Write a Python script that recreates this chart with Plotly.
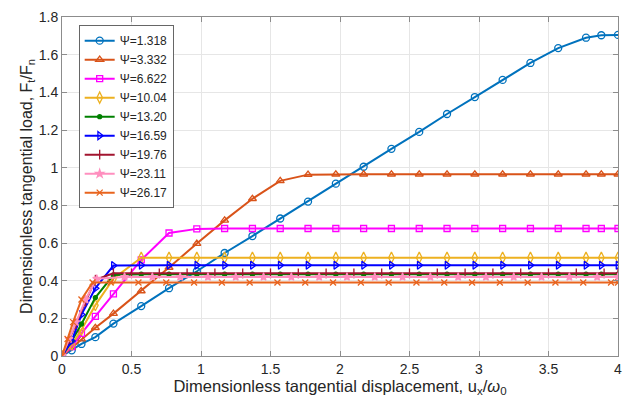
import plotly.graph_objects as go

# ---------------- data ----------------
x_a = [0, 0.07, 0.14, 0.24, 0.37, 0.57, 0.77, 0.97, 1.17, 1.37, 1.57, 1.77, 1.97, 2.17,
       2.37, 2.57, 2.77, 2.97, 3.17, 3.37, 3.57, 3.77, 3.88, 4.0]
y_1318 = [0, 0.03, 0.064, 0.10, 0.172, 0.265, 0.36, 0.45, 0.547, 0.637, 0.73, 0.82, 0.915, 1.005,
          1.10, 1.19, 1.285, 1.375, 1.466, 1.556, 1.635, 1.69, 1.703, 1.705]
y_3332 = [0, 0.045, 0.09, 0.15, 0.225, 0.345, 0.47, 0.597, 0.72, 0.835, 0.93, 0.963, 0.965, 0.965,
          0.965, 0.965, 0.965, 0.965, 0.965, 0.965, 0.965, 0.965, 0.965, 0.965]
y_6622 = [0, 0.05, 0.12, 0.21, 0.33, 0.51, 0.653, 0.675, 0.677, 0.677, 0.677, 0.677, 0.677, 0.677,
          0.677, 0.677, 0.677, 0.677, 0.677, 0.677, 0.677, 0.677, 0.677, 0.677]
y_1004 = [0, 0.06, 0.14, 0.27, 0.41, 0.522, 0.522, 0.522, 0.522, 0.522, 0.522, 0.522, 0.522, 0.522,
          0.522, 0.522, 0.522, 0.522, 0.522, 0.522, 0.522, 0.522, 0.522, 0.522]
y_1320 = [0, 0.08, 0.17, 0.31, 0.43, 0.434, 0.434, 0.434, 0.434, 0.434, 0.434, 0.434, 0.434, 0.434,
          0.434, 0.434, 0.434, 0.434, 0.434, 0.434, 0.434, 0.434, 0.434, 0.434]
y_1659 = [0, 0.08, 0.22, 0.36, 0.48, 0.482, 0.482, 0.482, 0.482, 0.482, 0.482, 0.482, 0.482, 0.482,
          0.482, 0.482, 0.482, 0.482, 0.482, 0.482, 0.482, 0.482, 0.482, 0.482]

x_p = [0, 0.05, 0.1, 0.17, 0.24, 0.37, 0.5, 0.7, 0.9, 1.1, 1.3, 1.5, 1.7, 1.9, 2.1, 2.3, 2.5,
       2.7, 2.9, 3.1, 3.3, 3.5, 3.7, 3.9, 4.0]
y_1976 = [0, 0.09, 0.17, 0.29, 0.405, 0.439, 0.439, 0.439, 0.439, 0.439, 0.439, 0.439, 0.439,
          0.439, 0.439, 0.439, 0.439, 0.439, 0.439, 0.439, 0.439, 0.439, 0.439, 0.439, 0.439]

x_s = [0, 0.05, 0.1, 0.17, 0.25, 0.45, 0.65, 0.85, 1.05, 1.25, 1.45, 1.65, 1.85, 2.05, 2.25,
       2.45, 2.65, 2.85, 3.05, 3.25, 3.45, 3.65, 3.85, 4.0]
y_2311 = [0, 0.09, 0.18, 0.30, 0.41, 0.42, 0.42, 0.42, 0.42, 0.42, 0.42, 0.42, 0.42, 0.42, 0.42,
          0.42, 0.42, 0.42, 0.42, 0.42, 0.42, 0.42, 0.42, 0.42]

x_x = [0, 0.04, 0.08, 0.14, 0.22, 0.35, 0.55, 0.75, 0.95, 1.15, 1.35, 1.55, 1.75, 1.95, 2.15,
       2.35, 2.55, 2.75, 2.95, 3.15, 3.35, 3.55, 3.75, 3.95, 4.0]
y_2617 = [0, 0.09, 0.18, 0.30, 0.39, 0.39, 0.39, 0.39, 0.39, 0.39, 0.39, 0.39, 0.39, 0.39, 0.39,
          0.39, 0.39, 0.39, 0.39, 0.39, 0.39, 0.39, 0.39, 0.39, 0.39]

labels = ["Ψ=1.318", "Ψ=3.332", "Ψ=6.622", "Ψ=10.04", "Ψ=13.20",
          "Ψ=16.59", "Ψ=19.76", "Ψ=23.11", "Ψ=26.17"]
xs = [x_a, x_a, x_a, x_a, x_a, x_a, x_p, x_s, x_x]
ys = [y_1318, y_3332, y_6622, y_1004, y_1320, y_1659, y_1976, y_2311, y_2617]
colors = ["#0072BD", "#D95319", "#FF00FF", "#EDB120", "#008000",
          "#0000FF", "#A2142F", "#FF8FBF", "#E8641E"]
symbols = ["circle-open", "triangle-up-open", "square-open", "diamond-tall-open", "circle",
           "triangle-right-open", "line-ns", "star", "x-thin"]
msizes = [7, 7, 6, 8, 4, 7, 7, 6, 6]

fig = go.Figure()
for x, y, lab, c, s, ms in zip(xs, ys, labels, colors, symbols, msizes):
    fig.add_trace(go.Scatter(
        x=x, y=y, name=lab, mode="lines+markers",
        line=dict(color=c, width=2),
        marker=dict(symbol=s, size=ms, color=c, line=dict(color=c, width=1.3)),
    ))

axis_common = dict(
    showline=True, linecolor="#8c8c8c", linewidth=1, mirror="ticks",
    ticks="inside", ticklen=5, tickcolor="#8c8c8c",
    showgrid=True, gridcolor="#e6e6e6", gridwidth=1,
    zeroline=False, ticklabeloverflow="allow",
    tickfont=dict(family="Liberation Sans, Arial", size=14, color="#262626"),
)

fig.update_layout(
    width=625, height=408,
    margin=dict(l=62, r=3, t=17, b=52),
    paper_bgcolor="white", plot_bgcolor="white",
    font=dict(family="Liberation Sans, Arial", color="#262626"),
    xaxis=dict(range=[0, 4], dtick=0.5, tick0=0,
               title=dict(text="Dimensionless tangential displacement, u<sub>x</sub>/<i>ω</i><sub>0</sub>",
                          font=dict(size=16.5, color="#262626"), standoff=4),
               **axis_common),
    yaxis=dict(range=[0, 1.8], dtick=0.2, tick0=0,
               title=dict(text="Dimensionless tangential load, F<sub>t</sub>/F<sub>n</sub>",
                          font=dict(size=16, color="#262626"), standoff=2),
               **axis_common),
    legend=dict(x=0.03, y=0.976, xanchor="left", yanchor="top",
                bgcolor="white", bordercolor="#666666", borderwidth=1,
                font=dict(family="Liberation Sans, Arial", size=12, color="#262626"),
                itemwidth=30, tracegroupgap=0),
    showlegend=True,
)

fig.write_html("out.html")
